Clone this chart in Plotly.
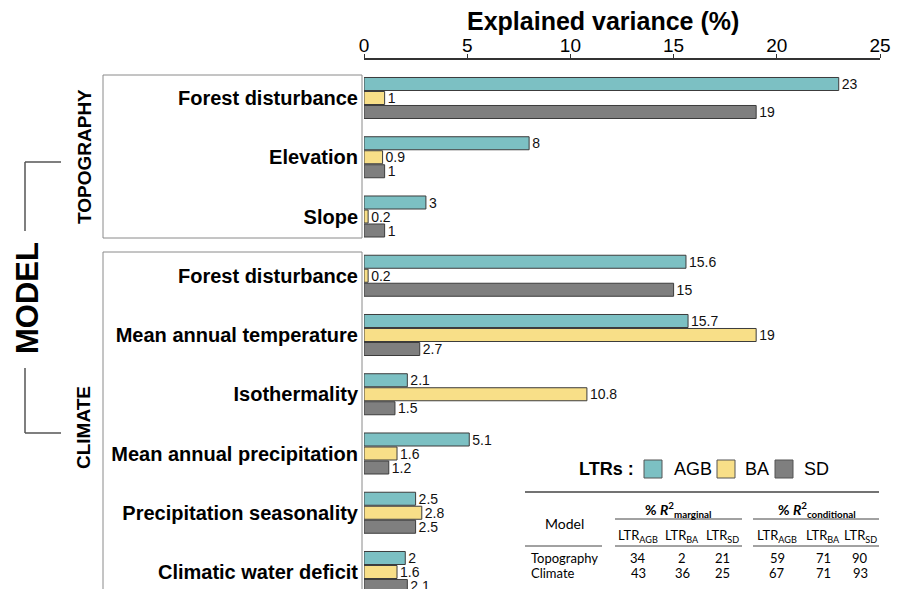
import plotly.graph_objects as go

# ---------------- data ----------------
categories = ["Forest disturbance", "Elevation", "Slope",
              "Forest disturbance", "Mean annual temperature", "Isothermality",
              "Mean annual precipitation", "Precipitation seasonality", "Climatic water deficit"]
agb = [23, 8, 3, 15.6, 15.7, 2.1, 5.1, 2.5, 2]
ba = [1, 0.9, 0.2, 0.2, 19, 10.8, 1.6, 2.8, 1.6]
sd = [19, 1, 1, 15, 2.7, 1.5, 1.2, 2.5, 2.1]
series_names = ["AGB", "BA", "SD"]
x_ticks = [0, 5, 10, 15, 20, 25]

table_models = ["Topography", "Climate"]
table_cols = ["LTR<sub>AGB</sub>", "LTR<sub>BA</sub>", "LTR<sub>SD</sub>"]
r2_marginal = [[34, 2, 21], [43, 36, 25]]
r2_conditional = [[59, 71, 90], [67, 71, 93]]

# ---------------- style ----------------
colors = ["#7cc0c3", "#f8df88", "#7f7f7f"]
FONT = "Liberation Sans"
TFONT = "Lato"
W, H = 906, 589
L, R, T, B = 364, 880, 60, 589
step = 59.25
first_center = 98


def px(x):
    return (x - L) / (R - L)


def py(y):
    return (B - y) / (B - T)


ypos = list(range(len(categories)))
fig = go.Figure()
for name, vals, col in zip(series_names, [agb, ba, sd], colors):
    fig.add_trace(go.Bar(
        y=ypos, x=vals, orientation="h", name=name,
        marker=dict(color=col, line=dict(color="#3c3c3c", width=1)),
        text=[f"{v:g}" for v in vals], textposition="outside",
        textfont=dict(family=FONT, size=14, color="#111"),
        constraintext="none", cliponaxis=False, showlegend=False,
    ))

y_top = (T - first_center) / step
y_bot = (B - first_center) / step

fig.update_layout(
    width=W, height=H,
    margin=dict(l=L, r=W - R, t=T, b=0),
    paper_bgcolor="white", plot_bgcolor="white",
    barmode="group", bargap=1 - 42 / step, bargroupgap=0.07,
    font=dict(family=FONT, color="black"),
    xaxis=dict(
        side="top", range=[0, 25], tickvals=x_ticks, ticks="outside", ticklen=4,
        tickcolor="#333", showline=True, linecolor="#333", linewidth=1.5,
        showgrid=False, zeroline=False, automargin=False,
        tickfont=dict(family=FONT, size=19, color="black"),
        ticklabelstandoff=-5,
    ),
    yaxis=dict(
        range=[y_bot, y_top], tickvals=ypos,
        ticktext=[f"<b>{c}</b>" for c in categories],
        tickfont=dict(family=FONT, size=20, color="black"),
        ticks="", showgrid=False, zeroline=False, showline=False, automargin=False,
        ticklabelstandoff=5,
    ),
)

shapes = []
# group boxes
shapes.append(dict(type="rect", xref="paper", yref="paper",
                   x0=px(103), x1=px(362), y0=py(238), y1=py(75),
                   line=dict(color="#8a8a8a", width=1)))
shapes.append(dict(type="rect", xref="paper", yref="paper",
                   x0=px(103), x1=px(362), y0=py(620), y1=py(252),
                   line=dict(color="#8a8a8a", width=1)))
# bracket lines
for (x0, y0, x1, y1) in [(25, 162, 61, 162), (25, 162, 25, 231),
                         (25, 368, 25, 433), (25, 433, 61, 433)]:
    shapes.append(dict(type="line", xref="paper", yref="paper",
                       x0=px(x0), y0=py(y0), x1=px(x1), y1=py(y1),
                       line=dict(color="#555", width=1.5)))
# legend swatches
for (x0, col) in zip([644, 717, 775], colors):
    shapes.append(dict(type="rect", xref="paper", yref="paper",
                       x0=px(x0), x1=px(x0 + 18), y0=py(478), y1=py(460),
                       fillcolor=col, line=dict(color="#555", width=1)))
# table lines
for (x0, x1, y, w) in [(525, 879, 492, 1.5), (615, 742, 519, 1), (753, 879, 519, 1),
                       (525, 602, 546, 1), (615, 742, 546, 1), (753, 879, 546, 1)]:
    shapes.append(dict(type="line", xref="paper", yref="paper",
                       x0=px(x0), x1=px(x1), y0=py(y), y1=py(y),
                       line=dict(color="#444", width=w)))

ann = []


def add_text(x, y, text, size, family=FONT, xanchor="center", angle=0, color="black"):
    ann.append(dict(xref="paper", yref="paper", x=px(x), y=py(y), text=text,
                    showarrow=False, xanchor=xanchor, yanchor="middle",
                    textangle=angle, font=dict(family=family, size=size, color=color)))


# axis title
add_text(603, 21, "<b>Explained variance (%)</b>", 25)

add_text(27, 298, "<b>MODEL</b>", 31, angle=-90)
add_text(84, 157, "<b>TOPOGRAPHY</b>", 19, angle=-90)
add_text(83, 428, "<b>CLIMATE</b>", 19, angle=-90)

# legend text
add_text(636, 469, "<b>LTRs :</b>", 18, xanchor="right")
for x, name in zip([672, 743, 802], series_names):
    add_text(x, 469, name, 18, xanchor="left")

# table text
add_text(564, 523, "Model", 14, family=TFONT)
add_text(678, 509, "<b>% <i>R</i><sup>2</sup><sub>marginal</sub></b>", 14, family=TFONT)
add_text(817, 509, "<b>% <i>R</i><sup>2</sup><sub>conditional</sub></b>", 14, family=TFONT)
col_x = [638, 682, 722, 777, 823, 860]
for x, c in zip(col_x, table_cols + table_cols):
    add_text(x, 536, c, 13, family=TFONT)
for row_y, model, marg, cond in zip([558, 573], table_models, r2_marginal, r2_conditional):
    add_text(529, row_y, model, 13, family=TFONT, xanchor="left")
    for x, v in zip(col_x, marg + cond):
        add_text(x, row_y, str(v), 13, family=TFONT)

fig.update_layout(shapes=shapes, annotations=ann)
fig.write_html("out.html", config={"displayModeBar": False},
               post_script="document.body.style.margin='0';document.body.style.overflow='hidden';")
